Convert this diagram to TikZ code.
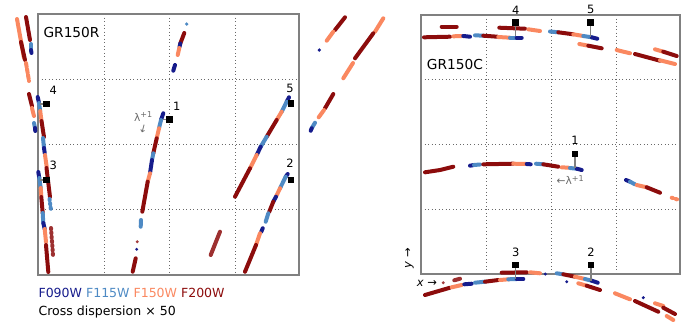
\documentclass[tikz,border=0pt]{standalone}
\usepackage{fontspec}
\setmainfont{DejaVu Sans}
\definecolor{cA}{RGB}{22,28,140}
\definecolor{cB}{RGB}{78,138,196}
\definecolor{cC}{RGB}{250,136,96}
\definecolor{cD}{RGB}{140,12,12}
\definecolor{frm}{RGB}{128,128,128}
\definecolor{grd}{RGB}{105,105,105}
\begin{document}
\begin{tikzpicture}[x=0.75pt,y=-0.75pt,
  tr/.style={line width=3pt,line cap=round},
  tA/.style={tr,draw=cA},
  tB/.style={tr,draw=cB},
  tC/.style={tr,draw=cC},
  tD/.style={tr,draw=cD},
  dotsy/.style={dash pattern=on 1pt off 2.2pt},
  faded/.style={opacity=0.85},
  frame/.style={draw=frm,line width=1.3pt},
  gridline/.style={draw=grd,line width=0.65pt,dotted},
  srcbox/.style={fill=black,minimum size=5.2pt,inner sep=0pt,outer sep=0pt},
  stem/.style={draw=frm,line width=0.8pt},
  numlab/.style={font=\fontsize{8.6}{10}\selectfont,inner sep=0pt},
  lamlab/.style={font=\fontsize{8}{9}\selectfont,text=grd,inner sep=0pt},
  title/.style={font=\fontsize{10.3}{12}\selectfont,inner sep=0pt,anchor=base west},
  legend/.style={font=\fontsize{9.4}{11}\selectfont,inner sep=0pt,anchor=base west}]
\useasboundingbox (0,0) rectangle (700,333);

% ---------------- left panel grid & frame
\foreach \gx in {104,169,235} \draw[gridline] (\gx,14) -- (\gx,275);
\foreach \gy in {79,144,209} \draw[gridline] (38,\gy) -- (299,\gy);
\draw[frame] (38,14) rectangle (299,275);

% ---------------- right panel grid & frame
\foreach \gx in {486,551,616} \draw[gridline] (\gx,15) -- (\gx,274);
\foreach \gy in {79,144,209} \draw[gridline] (421,\gy) -- (680,\gy);
\draw[frame] (421,15) rectangle (680,274);

% ================= LEFT PANEL TRACES
% far-left outside
\draw[tC] (17,19) -- (24,58);
\draw[tD] (26,17) -- (30,40);
\draw[tD] (21,42) -- (25,60);
\draw[tB] (31,44) -- (31,50);
\draw[tA] (31,50) -- (31.5,53);
\draw[tC,dash pattern=on 3pt off 1.5pt] (26,63) -- (29,81);
\draw[tD] (29,94) -- (32,106);
\draw[tC] (32,108) -- (34,116);
\draw[tB] (34,123) -- (35,128);
\draw[tA] (35,128) -- (35.3,131);
% trace of source 4
\draw[tA] (37.7,97) -- (39,103);
\draw[tB] (39,103) -- (40.2,111);
\draw[tC] (40.2,111) -- (41.5,121);
\draw[tD] (41.5,121) -- (44,137);
\draw[tB] (43,138) -- (44,148);
\draw[tA] (44,148) -- (44.7,153);
\draw[tC] (45,155) -- (46.7,167);
\draw[tD] (46.5,168) -- (50,197);
\draw[tB,dotsy] (49.5,199) -- (51,210);
% trace of source 3
\draw[tA] (38.3,172) -- (39.3,178);
\draw[tB] (39.3,178) -- (40.7,188);
\draw[tC] (40.7,188) -- (41.3,196);
\draw[tD] (41.3,197) -- (42.7,213);
\draw[tB] (42.7,213) -- (43.3,223);
\draw[tA] (43.3,223) -- (44.7,229);
\draw[tC] (44.7,229) -- (46,242);
\draw[tD] (46,245) -- (48.3,272);
\draw[tD,faded,dotsy] (51,228) -- (53,255);
% trace of source 1 (upper pieces)
\fill[cB] (186.7,24) circle (1.8);
\draw[tD] (184.3,33) -- (180.3,43.5);
\draw[tA] (180.3,43.5) -- (179.5,47);
\draw[tC] (179.3,48) -- (177.7,55);
\draw[tA] (175,65) -- (173.3,70.7);
% trace of source 1 (main)
\draw[tA] (163.3,113.3) -- (161,120);
\draw[tB] (161,120) -- (159,128.3);
\draw[tC] (159,128.3) -- (156.7,138.3);
\draw[tD] (156.7,138.3) -- (153.3,153.3);
\draw[tB] (153.3,153.3) -- (152,160);
\draw[tA] (152,160) -- (150,173.3);
\draw[tC] (150,173.3) -- (147.7,181.7);
\draw[tD] (147.7,181.7) -- (142.3,211.7);
\draw[tB] (141,220) -- (140.7,226.7);
\fill[cD,opacity=0.8] (137.3,241.7) circle (1.6);
\fill[cA] (136.7,249.3) circle (1.6);
\draw[tD] (135.7,258.3) -- (132.7,271.7);
% short faint trace
\draw[tD,faded] (220,231.7) -- (210.7,255);
% trace of source 5
\draw[tA] (289,97.3) -- (286.7,101.7);
\draw[tB] (286.7,101.7) -- (281.7,111.7);
\draw[tC] (281.7,111.7) -- (276.7,120);
\draw[tD] (276.7,120) -- (266.7,136.7);
\draw[tB] (266.7,136.7) -- (260.7,146.7);
\draw[tA] (260.7,146.7) -- (256.7,155);
\draw[tC] (256.7,155) -- (250,168.3);
\draw[tD] (250,168.3) -- (235,196.7);
% trace of source 2
\draw[tA] (287.7,174) -- (285.7,176.7);
\draw[tB] (285.7,176.7) -- (280,188.3);
\draw[tC] (280,188.3) -- (276,196.7);
\draw[tA] (276,196.7) -- (273.3,201.7);
\draw[tD] (273.3,201.7) -- (269.3,211.7);
\draw[tB] (268.3,213.3) -- (265.7,221.7);
\draw[tA] (262.7,228.3) -- (261.3,231.7);
\draw[tC] (260,233.3) -- (256,245);
\draw[tD] (256,245) -- (245,271.7);
% outside right of left panel
\draw[tD] (345,17.3) -- (335,30);
\draw[tC] (333.3,31.7) -- (326.7,40.7);
\fill[cA] (319.3,50) circle (1.8);
\draw[tC] (383.3,18.3) -- (375,31.7);
\draw[tD] (373.3,33.3) -- (355,58.3);
\draw[tC] (353,63) -- (343.3,78.3);
\draw[tD] (333.3,94) -- (325,108.3);
\draw[tC] (324,110) -- (318.7,117.3);
\draw[tB] (315,122.7) -- (311.7,128.3);
\draw[tA] (311.7,128.3) -- (310.7,130.7);

% sources, left panel
\node[srcbox] (L4) at (46.7,104) {};
\node[srcbox] (L3) at (46.7,180) {};
\node[srcbox] (L1) at (169.3,119.3) {};
\node[srcbox] (L5) at (291,103.7) {};
\node[srcbox] (L2) at (291,180) {};
\coordinate (L4t) at (40,104);
\coordinate (L3t) at (40,180);
\coordinate (L1t) at (162.5,119.3);
\draw[stem] (L4.west) -- (L4t);
\draw[stem] (L3.west) -- (L3t);
\draw[stem] (L1.west) -- (L1t);
\node[numlab] (nL4) at (53.3,90) {4};
\node[numlab] (nL3) at (53.3,165) {3};
\node[numlab] (nL1) at (176.7,106) {1};
\node[numlab] (nL5) at (290,88.3) {5};
\node[numlab] (nL2) at (290,163.3) {2};
\node[lamlab] (lamL) at (143.5,116.5) {λ\textsuperscript{+1}};
\node[lamlab,rotate=-15] (arrL) at (143.3,129.3) {↓};

% ================= RIGHT PANEL TRACES
% top
\draw[tD] (441.7,26.7) -- (456.7,26.7);
\draw[tD] (424,37.3) -- (450,36.7);
\draw[tC] (453.3,36.3) -- (461.7,36);
\draw[tA] (463.3,36) -- (470,36.7);
\draw[tB] (475,35.3) -- (483.3,35.7);
\draw[tD] (483.3,35.7) -- (497.3,36.7);
\draw[tC] (498.3,37) -- (510,37.7);
\draw[tB] (510,37.7) -- (516.7,37.7);
\draw[tA] (516.7,37.7) -- (521.7,37.7);
\draw[tD] (499.3,27.7) -- (525,28.7);
\draw[tC] (528.3,29.3) -- (540,31);
\draw[tB] (550,31.5) -- (558.3,32.3);
\draw[tD] (558.3,32.3) -- (573.3,34.3);
\draw[tC] (573.3,34.3) -- (583.3,36);
\draw[tB] (583.3,36) -- (591.7,37.3);
\draw[tA] (591.7,37.3) -- (597.3,38.7);
\draw[tC] (579.3,44) -- (588.3,45.7);
\draw[tD] (588.3,45.7) -- (601.7,48.3);
\draw[tC] (616.7,50) -- (630,53.3);
\draw[tD] (635,54) -- (660,60.7);
\draw[tC] (660,60.3) -- (675,64);
\draw[tC] (655,49.3) -- (663.3,51.7);
\draw[tD] (663.3,51.7) -- (676.7,56);
% middle
\draw[tD] (425,172.3) -- (440,170) -- (453.3,166.7);
\draw[tA] (470,165.7) -- (474,165);
\draw[tB] (474,165) -- (480,164.5);
\draw[tD] (483.3,164.3) -- (513.3,163.7);
\draw[tC] (513.3,163.7) -- (526.7,164);
\draw[tA] (526.7,164) -- (530.7,164.3);
\draw[tB] (536,163.7) -- (543.3,164.3);
\draw[tD] (543.3,164.3) -- (558.3,166.7);
\draw[tC] (561.7,167.3) -- (568.3,167.7);
\draw[tB] (570,168) -- (576.7,168.7);
\draw[tA] (576.7,168.7) -- (581.7,170);
\draw[tA] (626,180) -- (630,181.7);
\draw[tB] (630,181.7) -- (635,184.3);
\draw[tC] (636.7,185) -- (646.7,187.3);
\draw[tD] (646.7,187.3) -- (660,192.7);
\draw[tC,dotsy] (671.7,197.7) -- (679,200);
% bottom
\draw[tD] (425,295) -- (450,287.7);
\draw[tC] (451.7,287.3) -- (461.7,285);
\draw[tA] (464.3,284.3) -- (471.7,283.7);
\fill[cD,opacity=0.8] (443.3,282.7) circle (1.6);
\draw[tD,faded] (454.3,280.3) -- (460,278.7);
\draw[tB] (475,282.7) -- (485,281.7);
\draw[tD] (485,281.7) -- (498.3,280);
\draw[tC] (500,280) -- (508.3,279.3);
\draw[tB] (508.3,279.3) -- (516.7,279);
\draw[tA] (516.7,279) -- (523.3,279);
\draw[tD] (501.7,272.7) -- (526.7,272.3);
\draw[tC] (530,272.3) -- (540,273.3);
\fill[cA] (545.3,274) circle (1.7);
\draw[tB] (556.7,273.3) -- (563.3,274.3);
\draw[tD] (563.3,274.3) -- (575,276.7);
\draw[tC] (575,276.7) -- (585,279);
\draw[tB] (585,279) -- (591.7,280.7);
\draw[tA] (591.7,280.7) -- (597.7,282.7);
\fill[cA] (566.7,281.7) circle (1.6);
\draw[tC] (578.3,283.3) -- (586.7,285.7);
\draw[tD] (586.7,285.7) -- (600,290);
\draw[tC] (615,293.3) -- (630,299.3);
\fill[cA] (643.3,297.7) circle (1.7);
\draw[tD] (635,301) -- (658.3,311.7);
\draw[tC] (655,303.3) -- (663.3,306);
\draw[tD] (663.3,307.7) -- (675,314);
\draw[tC] (666.7,316) -- (673.3,320);

% sources, right panel
\coordinate (R4t) at (515.7,35.5);
\coordinate (R5t) at (590.7,37);
\coordinate (R1t) at (575,168.3);
\coordinate (R3t) at (515.7,279);
\coordinate (R2t) at (591,280.7);
\coordinate (R4p) at (515.7,22.7);
\coordinate (R5p) at (590.7,22.7);
\coordinate (R1p) at (575,154);
\coordinate (R3p) at (515.7,265);
\coordinate (R2p) at (591,265);
\draw[stem] (R4p) -- (R4t);
\draw[stem] (R5p) -- (R5t);
\draw[stem] (R1p) -- (R1t);
\draw[stem] (R3p) -- (R3t);
\draw[stem] (R2p) -- (R2t);
\node[srcbox] (R4) at (R4p) {};
\node[srcbox] (R5) at (R5p) {};
\node[srcbox] (R1) at (R1p) {};
\node[srcbox] (R3) at (R3p) {};
\node[srcbox] (R2) at (R2p) {};
\node[numlab] (nR4) at (515.7,10) {4};
\node[numlab] (nR5) at (590.7,9.3) {5};
\node[numlab] (nR1) at (575,140) {1};
\node[numlab] (nR3) at (515.7,252.7) {3};
\node[numlab] (nR2) at (591,252.7) {2};
\node[lamlab] (lamR) at (570.5,180) {←λ\textsuperscript{+1}};

% axis direction labels
\node[numlab,rotate=90] (ylab) at (409.5,258) {\textit{y} →};
\node[numlab] (xlab) at (427,283.5) {\textit{x} →};

% titles
\node[title] (tR) at (43.3,37.3) {GR150R};
\node[title] (tCc) at (426.7,69.3) {GR150C};

% legend
\node[legend] (leg1) at (38.3,297) {\textcolor{cA}{F090W} \textcolor{cB}{F115W} \textcolor{cC}{F150W} \textcolor{cD}{F200W}};
\node[legend] (leg2) at (38.3,315) {Cross dispersion × 50};
\end{tikzpicture}
\end{document}
